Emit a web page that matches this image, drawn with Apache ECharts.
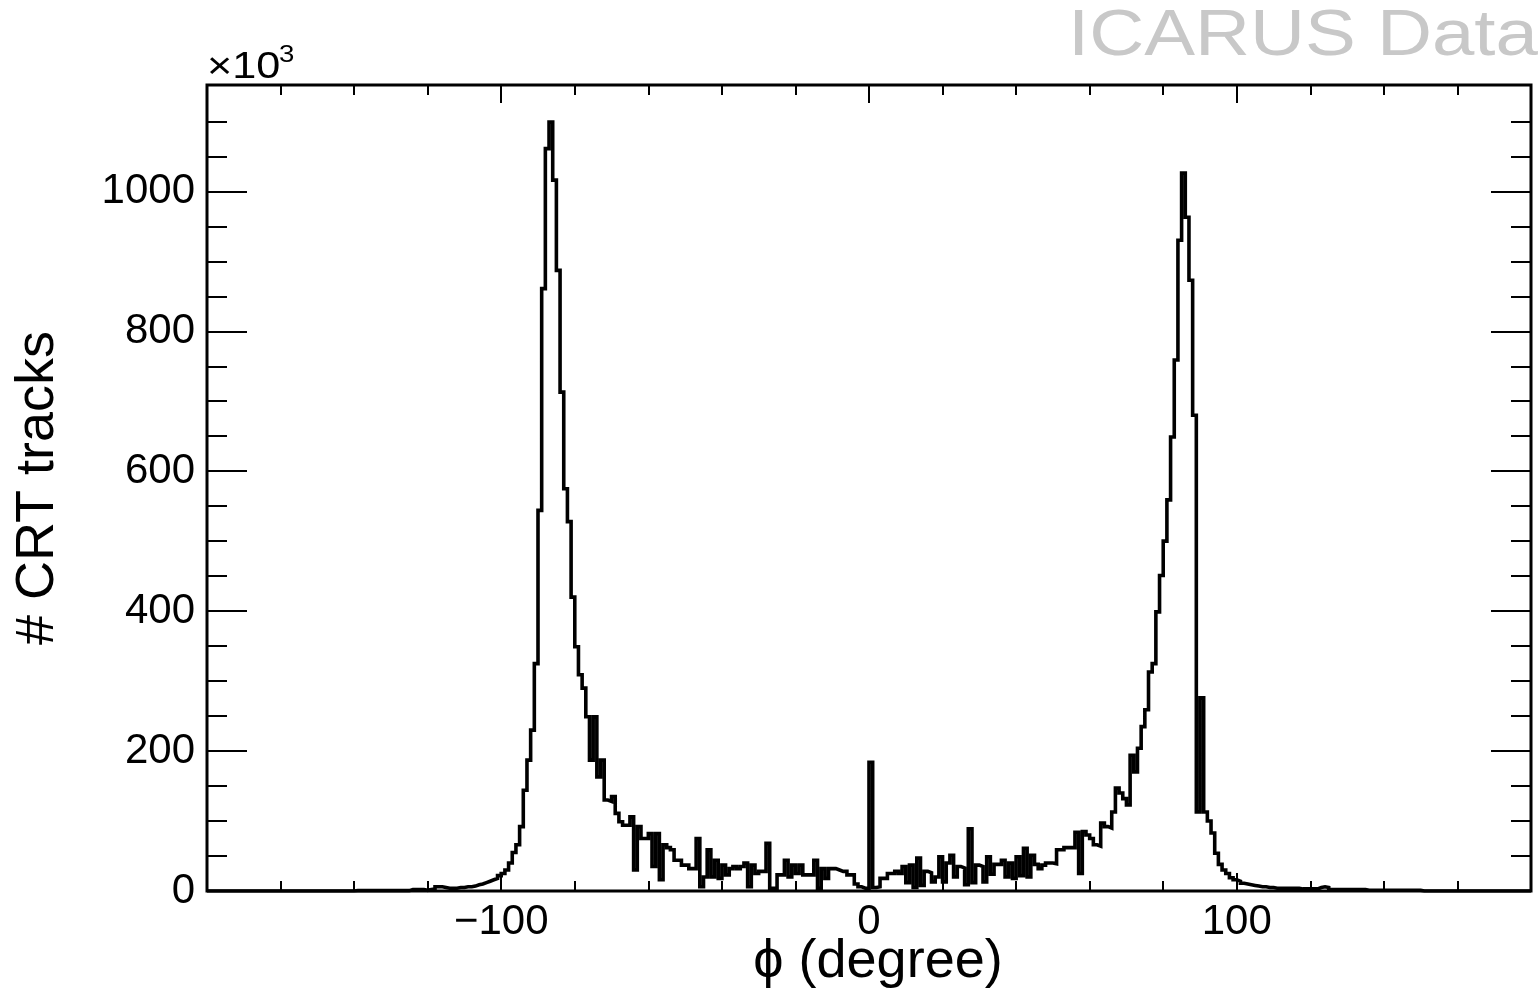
<!DOCTYPE html>
<html>
<head>
<meta charset="utf-8">
<script src="https://cdn.jsdelivr.net/npm/echarts@6/dist/echarts.min.js"></script>
<style>
html,body{margin:0;padding:0;background:#fff;}
#chart{width:1538px;height:991px;}
</style>
</head>
<body>
<div id="chart"></div>
<script>
// Histogram binning: 1-degree bins from -180 to 180
const binStart = -180;
const binWidth = 1;

// Counts (x10^3) for bins [-180,-179] ... [-1,0]
const countsNeg = [
  0,0,0,0,0,0,0,0,0,0, 0,0,0,0,0,0,0,0,0,0,
  0,0,0,0,0,0,0,0,0,0, 0,0,0,0,0,0,0,0,0,0,
  0.5,0.5,0.5,0.5,0.5,0.5,0.5,0.5,0.5,0.5,0.5,0.5,0.5,0.5,0.5,
  2,2,2,2,1,2,3,6,6,5,4,4,4,5,5,6,6,7,9,10,12,14,16,18,22,
  25,30,40,55,66,92,144,187,230,325,544,861,1061,1099,
  1016,887,713,575,528,420,349,309,290,249,187,249,163,187,130,
  128,135,111,99,94,94,106,30,92,75,75,82,35,82,16,
  66,62,59,44,44,37,37,32,32,75,6,20,59,20,44,
  18,37,23,32,35,32,35,40,6,37,25,28,28,68,4,
  4,23,23,44,20,37,25,37,23,23,23,44,4,32,
  18,32,32,30,28,28,23,23,10,6,4,4
];

// Counts (x10^3) for bins [0,1] ... [179,180]
const countsPos = [
  184,5,6,18,18,25,25,28,25,35,12,37,5,47,8,
  28,26,13,20,49,13,40,51,20,35,33,9,89,12,37,
  35,13,49,24,38,38,44,20,40,18,49,22,61,20,51,
  38,32,37,40,40,39,59,59,62,62,62,84,25,85,80,
  75,66,64,97,92,90,113,147,140,132,123,194,170,204,235,
  259,313,325,399,451,500,559,649,759,930,1026,963,873,680,113,
  276,113,100,83,54,38,30,25,19,16,14,11,10,9,8,
  7,6,6,5,5,4,4,4,4,4,4,4,3,3,3,3,3,
  5,6,5,
  2,2,2,2,2,2,2,2,2,2,
  1,1,1,1,1,1,1,1,1,1,1,1,1,1,1,
  0,0,0,0,0,0,0,0,0,0, 0,0,0,0,0,0,0,0,0,0, 0,0,0,0,0,0,0,0,0,0
];

// Tick positions
const xMajorTicks = [-100, 0, 100];
const xMinorTicks = [-160, -140, -120, -80, -60, -40, -20, 20, 40, 60, 80, 120, 140, 160];
const yMajorTicks = [0, 200, 400, 600, 800, 1000];
const yMinorTicks = [50, 100, 150, 250, 300, 350, 450, 500, 550, 650, 700, 750, 850, 900, 950, 1050, 1100];

const xTitle = '\u03d5 (degree)';
const yTitle = '# CRT tracks';
const mainLabel = 'ICARUS Data';

const FONT = '"Liberation Sans", Arial, Helvetica, sans-serif';

const counts = countsNeg.concat(countsPos);
const histData = counts.map((v, i) => [binStart + i * binWidth, v]);
histData.push([binStart + counts.length * binWidth, counts[counts.length - 1]]);

function xAxisDef(position, ticks, len, withLabels) {
  const ax = {
    type: 'value', min: -180, max: 180, position: position, gridIndex: 0,
    axisLine: { show: false, onZero: false }, splitLine: { show: false },
    axisTick: { show: true, inside: true, length: len, customValues: ticks,
      lineStyle: { color: '#000', width: 2 } },
    axisLabel: { show: false }
  };
  if (withLabels) {
    ax.axisLabel = {
      show: true, customValues: ticks, margin: 10, color: '#000',
      fontSize: 42, fontFamily: FONT,
      formatter: v => (v < 0 ? '\u2212' + Math.abs(v) : String(v))
    };
    ax.name = xTitle;
    ax.nameLocation = 'middle';
    ax.nameGap = 44;
    ax.nameMoveOverlap = false;
    ax.nameTextStyle = { fontSize: 54, fontFamily: FONT, color: '#000', padding: [0, 0, 0, 18] };
  }
  return ax;
}

function yAxisDef(position, ticks, len, withLabels) {
  const ax = {
    type: 'value', min: 0, max: 1152, position: position, gridIndex: 0,
    axisLine: { show: false, onZero: false }, splitLine: { show: false },
    axisTick: { show: true, inside: true, length: len, customValues: ticks,
      lineStyle: { color: '#000', width: 2 } },
    axisLabel: { show: false }
  };
  if (withLabels) {
    ax.axisLabel = {
      show: true, customValues: ticks, margin: 12, color: '#000',
      fontSize: 42, fontFamily: FONT,
      formatter: v => String(v)
    };
    ax.name = yTitle;
    ax.nameLocation = 'middle';
    ax.nameRotate = 90;
    ax.nameGap = 142;
    ax.nameMoveOverlap = false;
    ax.nameTextStyle = { fontSize: 54, fontFamily: FONT, color: '#000' };
  }
  return ax;
}

const chart = echarts.init(document.getElementById('chart'), null, { renderer: 'canvas' });
chart.setOption({
  animation: false,
  backgroundColor: '#fff',
  grid: {
    left: 207, right: 7, top: 85, bottom: 100,
    outerBoundsMode: 'none', containLabel: false,
    show: true, borderColor: '#000', borderWidth: 3, backgroundColor: 'transparent'
  },
  xAxis: [
    xAxisDef('bottom', xMajorTicks, 18, true),
    xAxisDef('bottom', xMinorTicks, 10, false),
    xAxisDef('top', xMajorTicks, 18, false),
    xAxisDef('top', xMinorTicks, 10, false)
  ],
  yAxis: [
    yAxisDef('left', yMajorTicks, 40, true),
    yAxisDef('left', yMinorTicks, 20, false),
    yAxisDef('right', yMajorTicks, 40, false),
    yAxisDef('right', yMinorTicks, 20, false)
  ],
  series: [{
    type: 'line',
    xAxisIndex: 0, yAxisIndex: 0,
    data: histData,
    step: 'end',
    symbol: 'none',
    clip: true,
    lineStyle: { color: '#000', width: 3.6, join: 'miter', cap: 'butt' },
    z: 5
  }],
  graphic: [
    { type: 'text', x: 1068, y: 5, scaleX: 1.19, z: 10,
      style: { text: mainLabel, fontSize: 64, fontFamily: FONT, fill: '#c8c8c8', align: 'left', verticalAlign: 'top' } },
    { type: 'text', x: 207, y: 50, scaleX: 1.2, z: 10,
      style: { text: '\u00d710', fontSize: 36, fontFamily: FONT, fill: '#000', align: 'left', verticalAlign: 'top' } },
    { type: 'text', x: 279, y: 44, scaleX: 1.2, z: 10,
      style: { text: '3', fontSize: 23, fontFamily: FONT, fill: '#000', align: 'left', verticalAlign: 'top' } }
  ]
});
</script>
</body>
</html>
